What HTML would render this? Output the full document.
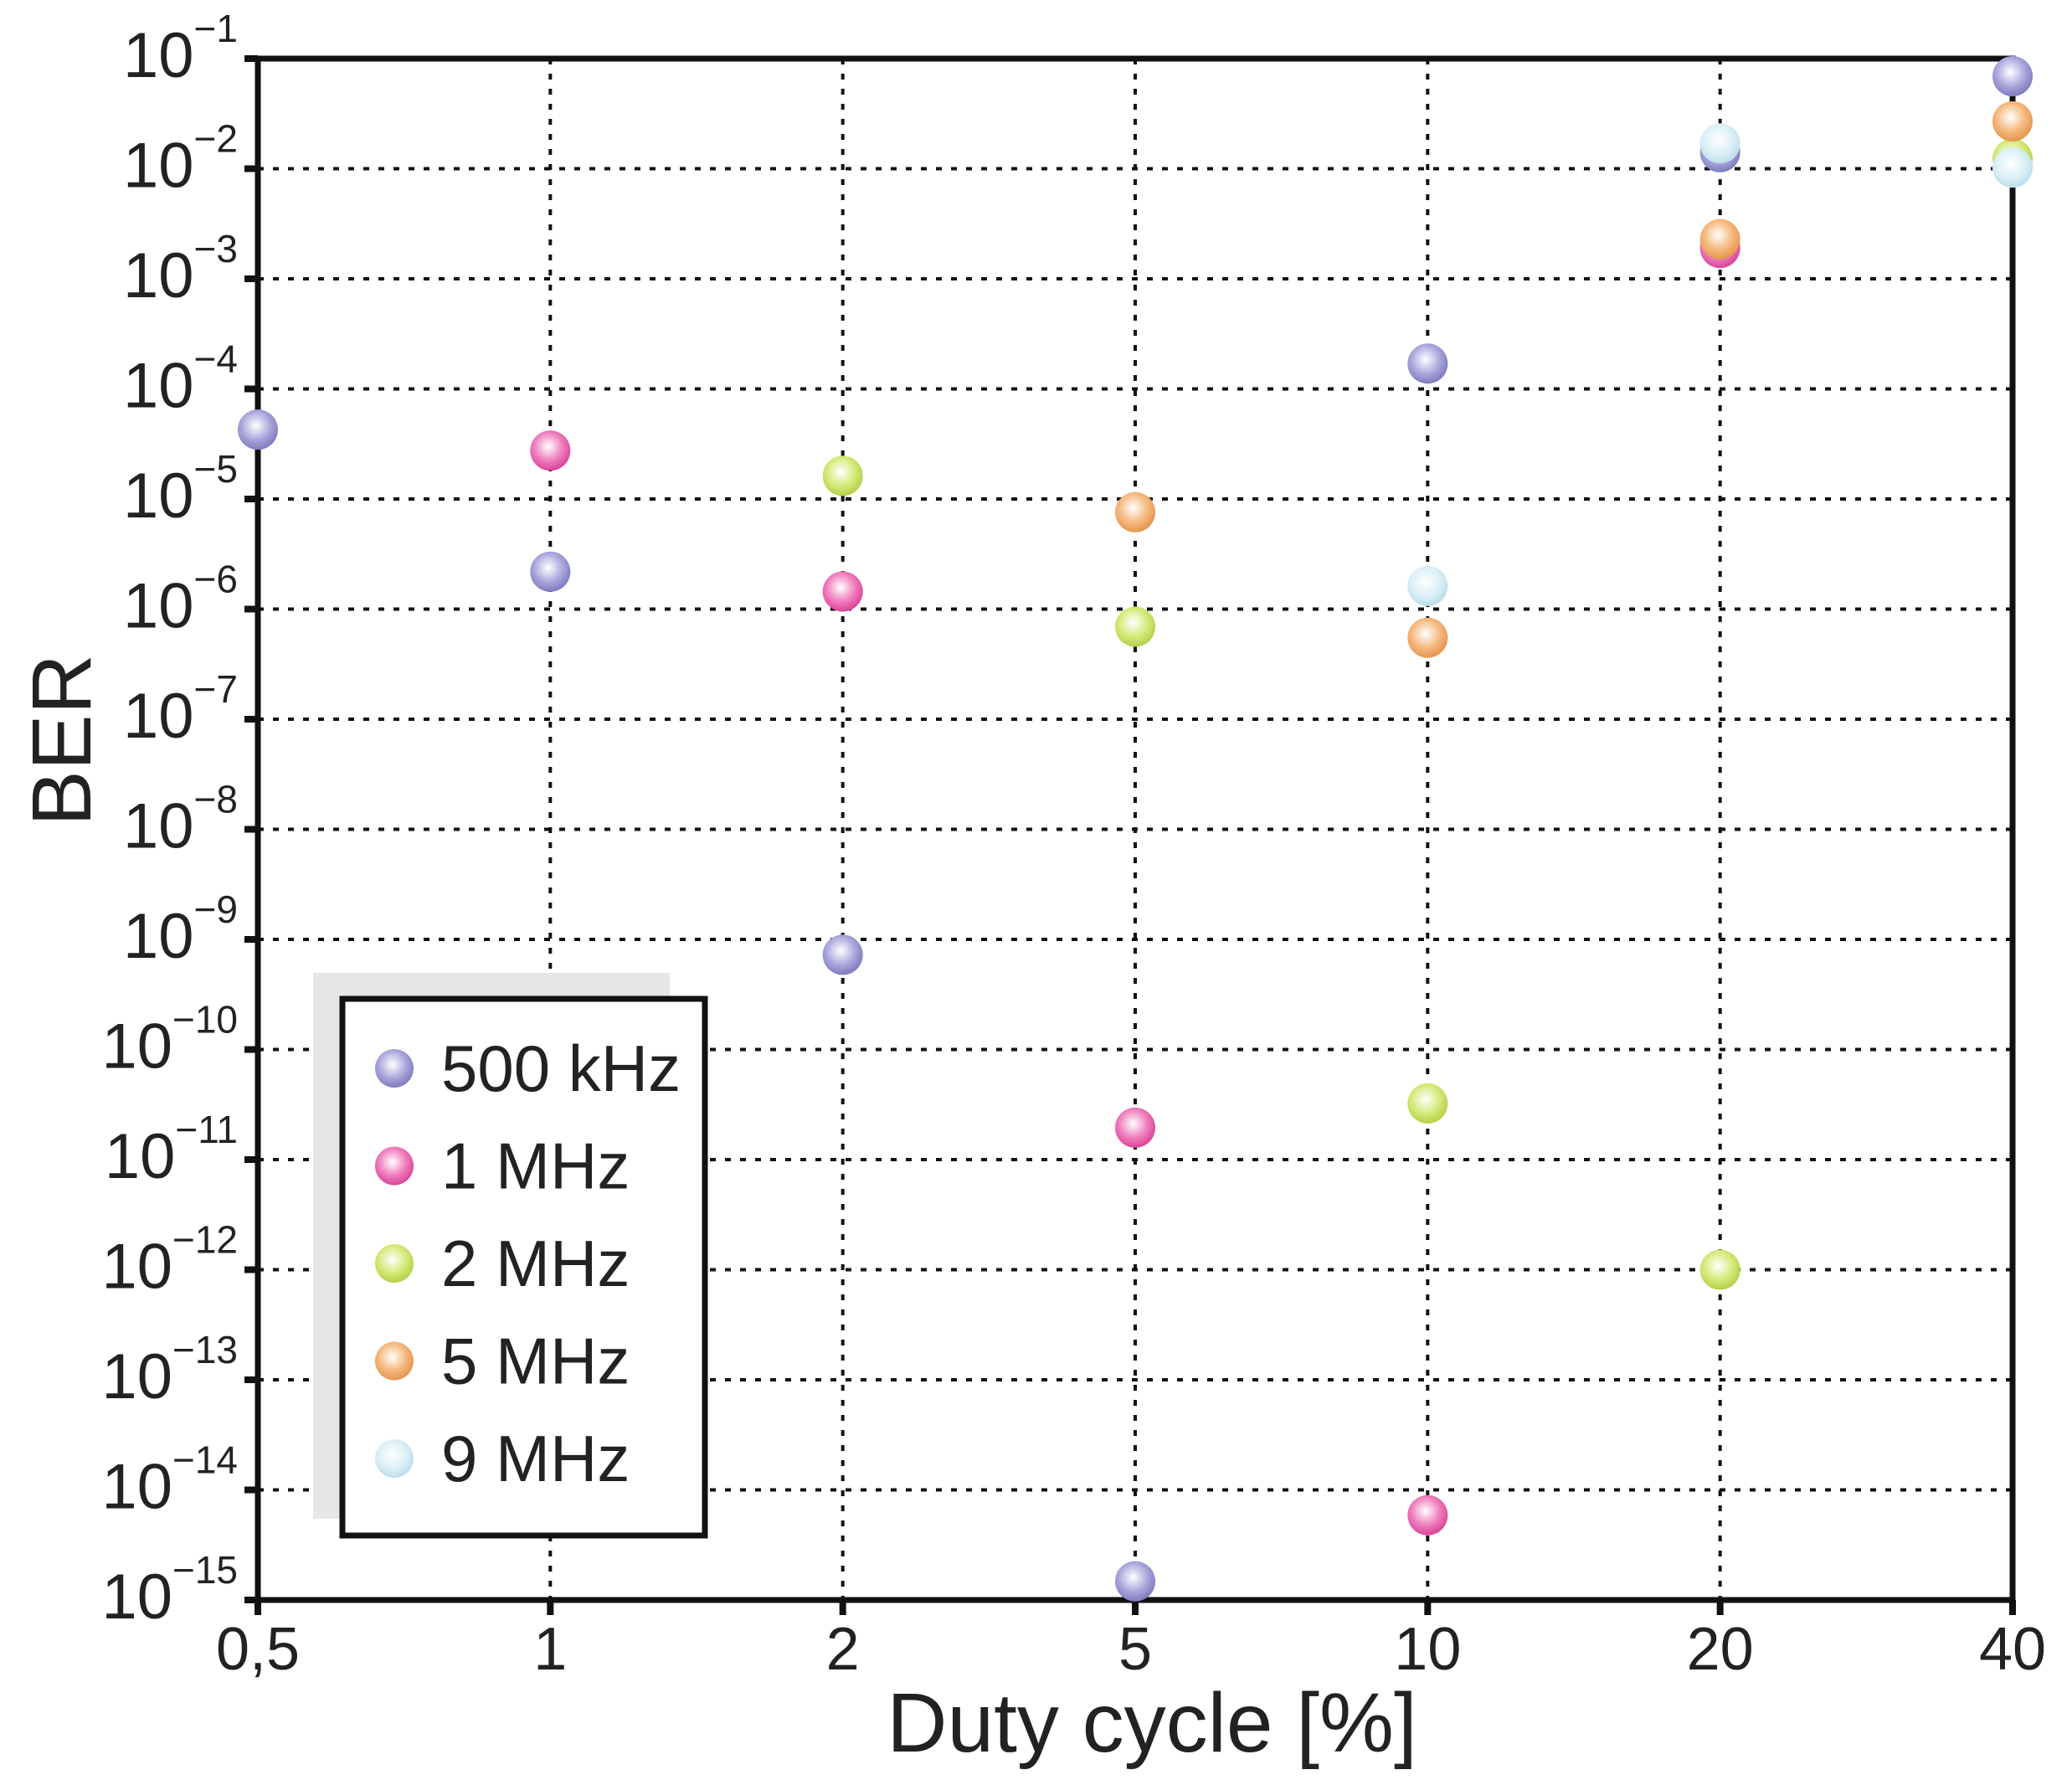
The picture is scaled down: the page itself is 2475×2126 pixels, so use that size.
<!DOCTYPE html>
<html><head><meta charset="utf-8"><style>
body{margin:0;background:#fff;}
svg{display:block;font-family:"Liberation Sans",Arial,sans-serif;}
</style></head><body>
<svg id="chart" width="2475" height="2126" viewBox="0 0 2475 2126" xmlns="http://www.w3.org/2000/svg">
<defs>
<radialGradient id="g0" cx="45%" cy="40%" r="60%"><stop offset="0" stop-color="#ffffff"/><stop offset="0.6" stop-color="#a9a6dc"/><stop offset="1" stop-color="#7f7bbd"/></radialGradient>
<radialGradient id="g1" cx="45%" cy="40%" r="60%"><stop offset="0" stop-color="#ffffff"/><stop offset="0.6" stop-color="#ef7cbc"/><stop offset="1" stop-color="#d9449a"/></radialGradient>
<radialGradient id="g2" cx="45%" cy="40%" r="60%"><stop offset="0" stop-color="#ffffff"/><stop offset="0.6" stop-color="#d4ea78"/><stop offset="1" stop-color="#b4d04a"/></radialGradient>
<radialGradient id="g3" cx="45%" cy="40%" r="60%"><stop offset="0" stop-color="#ffffff"/><stop offset="0.6" stop-color="#f5b87c"/><stop offset="1" stop-color="#e49650"/></radialGradient>
<radialGradient id="g4" cx="45%" cy="40%" r="60%"><stop offset="0" stop-color="#ffffff"/><stop offset="0.6" stop-color="#dcf0f7"/><stop offset="1" stop-color="#bcdeea"/></radialGradient>
</defs>
<g id="grid"></g><g id="axes"></g><g id="marks"></g><g id="legend"></g>
</svg>
<script>
const categories = ["0,5","1","2","5","10","20","40"];
const yExponents = [-1,-2,-3,-4,-5,-6,-7,-8,-9,-10,-11,-12,-13,-14,-15];
const seriesNames = ["500 kHz","1 MHz","2 MHz","5 MHz","9 MHz"];
// log10(BER) per category index; null = no point
const s500k = [-4.37,-5.66,-9.14,-14.83,-3.77,-1.85,-1.16];
const s1M = [null,-4.56,-5.84,-10.71,-14.23,-2.72,null];
const s2M = [null,null,-4.79,-6.16,-10.49,-12.0,-1.91];
const s5M = [null,null,null,-5.12,-6.26,-2.64,-1.57];
const s9M = [null,null,null,null,-5.79,-1.77,-1.99];
const seriesValues = [s500k,s1M,s2M,s5M,s9M];

const L=308,R=2404,T=70,B=1911;
const NS="http://www.w3.org/2000/svg";
function xs(i){return L+(R-L)*i/(categories.length-1);}
function ys(e){return T+(B-T)*(-1-e)/14;}
function mk(tag,attrs,parent){const el=document.createElementNS(NS,tag);for(const k in attrs)el.setAttribute(k,attrs[k]);parent.appendChild(el);return el;}
const grid=document.getElementById('grid'),axes=document.getElementById('axes'),marks=document.getElementById('marks'),legend=document.getElementById('legend');

yExponents.forEach(e=>{
  const y=ys(e);
  if(e!==-1&&e!==-15){
    const g=mk('line',{x1:L,x2:R,y1:y,y2:y,stroke:'#111','stroke-width':4,'stroke-dasharray':'7 11'},grid);
    
    
  }
  const t=mk('line',{x1:L-16,x2:L,y1:y,y2:y,stroke:'#111','stroke-width':8},axes);
  
  
  const tx=mk('text',{x:L-24,y:y+22,'text-anchor':'end','font-size':76,fill:'#222'},axes);
  
  
  const b=mk('tspan',{},tx);b.textContent='10';
  const s=mk('tspan',{'font-size':46,dy:-42},tx);s.textContent='\u2212'+(-e);
});
categories.forEach((c,i)=>{
  const x=xs(i);
  if(i>0&&i<categories.length-1){
    const g=mk('line',{x1:x,x2:x,y1:T,y2:B,stroke:'#111','stroke-width':4,'stroke-dasharray':'7 11'},grid);
    
    
  }
  const t=mk('line',{x1:x,x2:x,y1:B,y2:B+18,stroke:'#111','stroke-width':8},axes);
  
  
  const tx=mk('text',{x:x,y:1994,'text-anchor':'middle','font-size':72,fill:'#222'},axes);
  
  
  tx.textContent=c;
});
const frame=mk('rect',{x:L,y:T,width:R-L,height:B-T,fill:'none',stroke:'#111','stroke-width':7},axes);


const xt=mk('text',{x:1376,y:2092,'text-anchor':'middle','font-size':100,fill:'#222'},axes);


xt.textContent='Duty cycle [%]';
const yt=mk('text',{x:0,y:0,'text-anchor':'middle','font-size':100,fill:'#222',transform:'translate(108,884) rotate(-90)'},axes);


yt.textContent='BER';

seriesValues.forEach((vals,si)=>{
  vals.forEach((v,i)=>{
    if(v===null)return;
    const c=mk('circle',{cx:xs(i),cy:ys(v),r:24,fill:'url(#g'+si+')'},marks);
    
    
  });
});

const sh=mk('rect',{x:374,y:1162,width:426,height:652,fill:'#e6e6e6'},legend);


const lb=mk('rect',{x:409,y:1193,width:433,height:641,fill:'#fff',stroke:'#111','stroke-width':7},legend);


seriesNames.forEach((n,si)=>{
  const y=1276+si*116.5;
  const c=mk('circle',{cx:471,cy:y,r:23,fill:'url(#g'+si+')'},legend);
  
  
  const t=mk('text',{x:527,y:y+27,'font-size':78,fill:'#222'},legend);
  
  
  t.textContent=n;
});
</script>
</body></html>
